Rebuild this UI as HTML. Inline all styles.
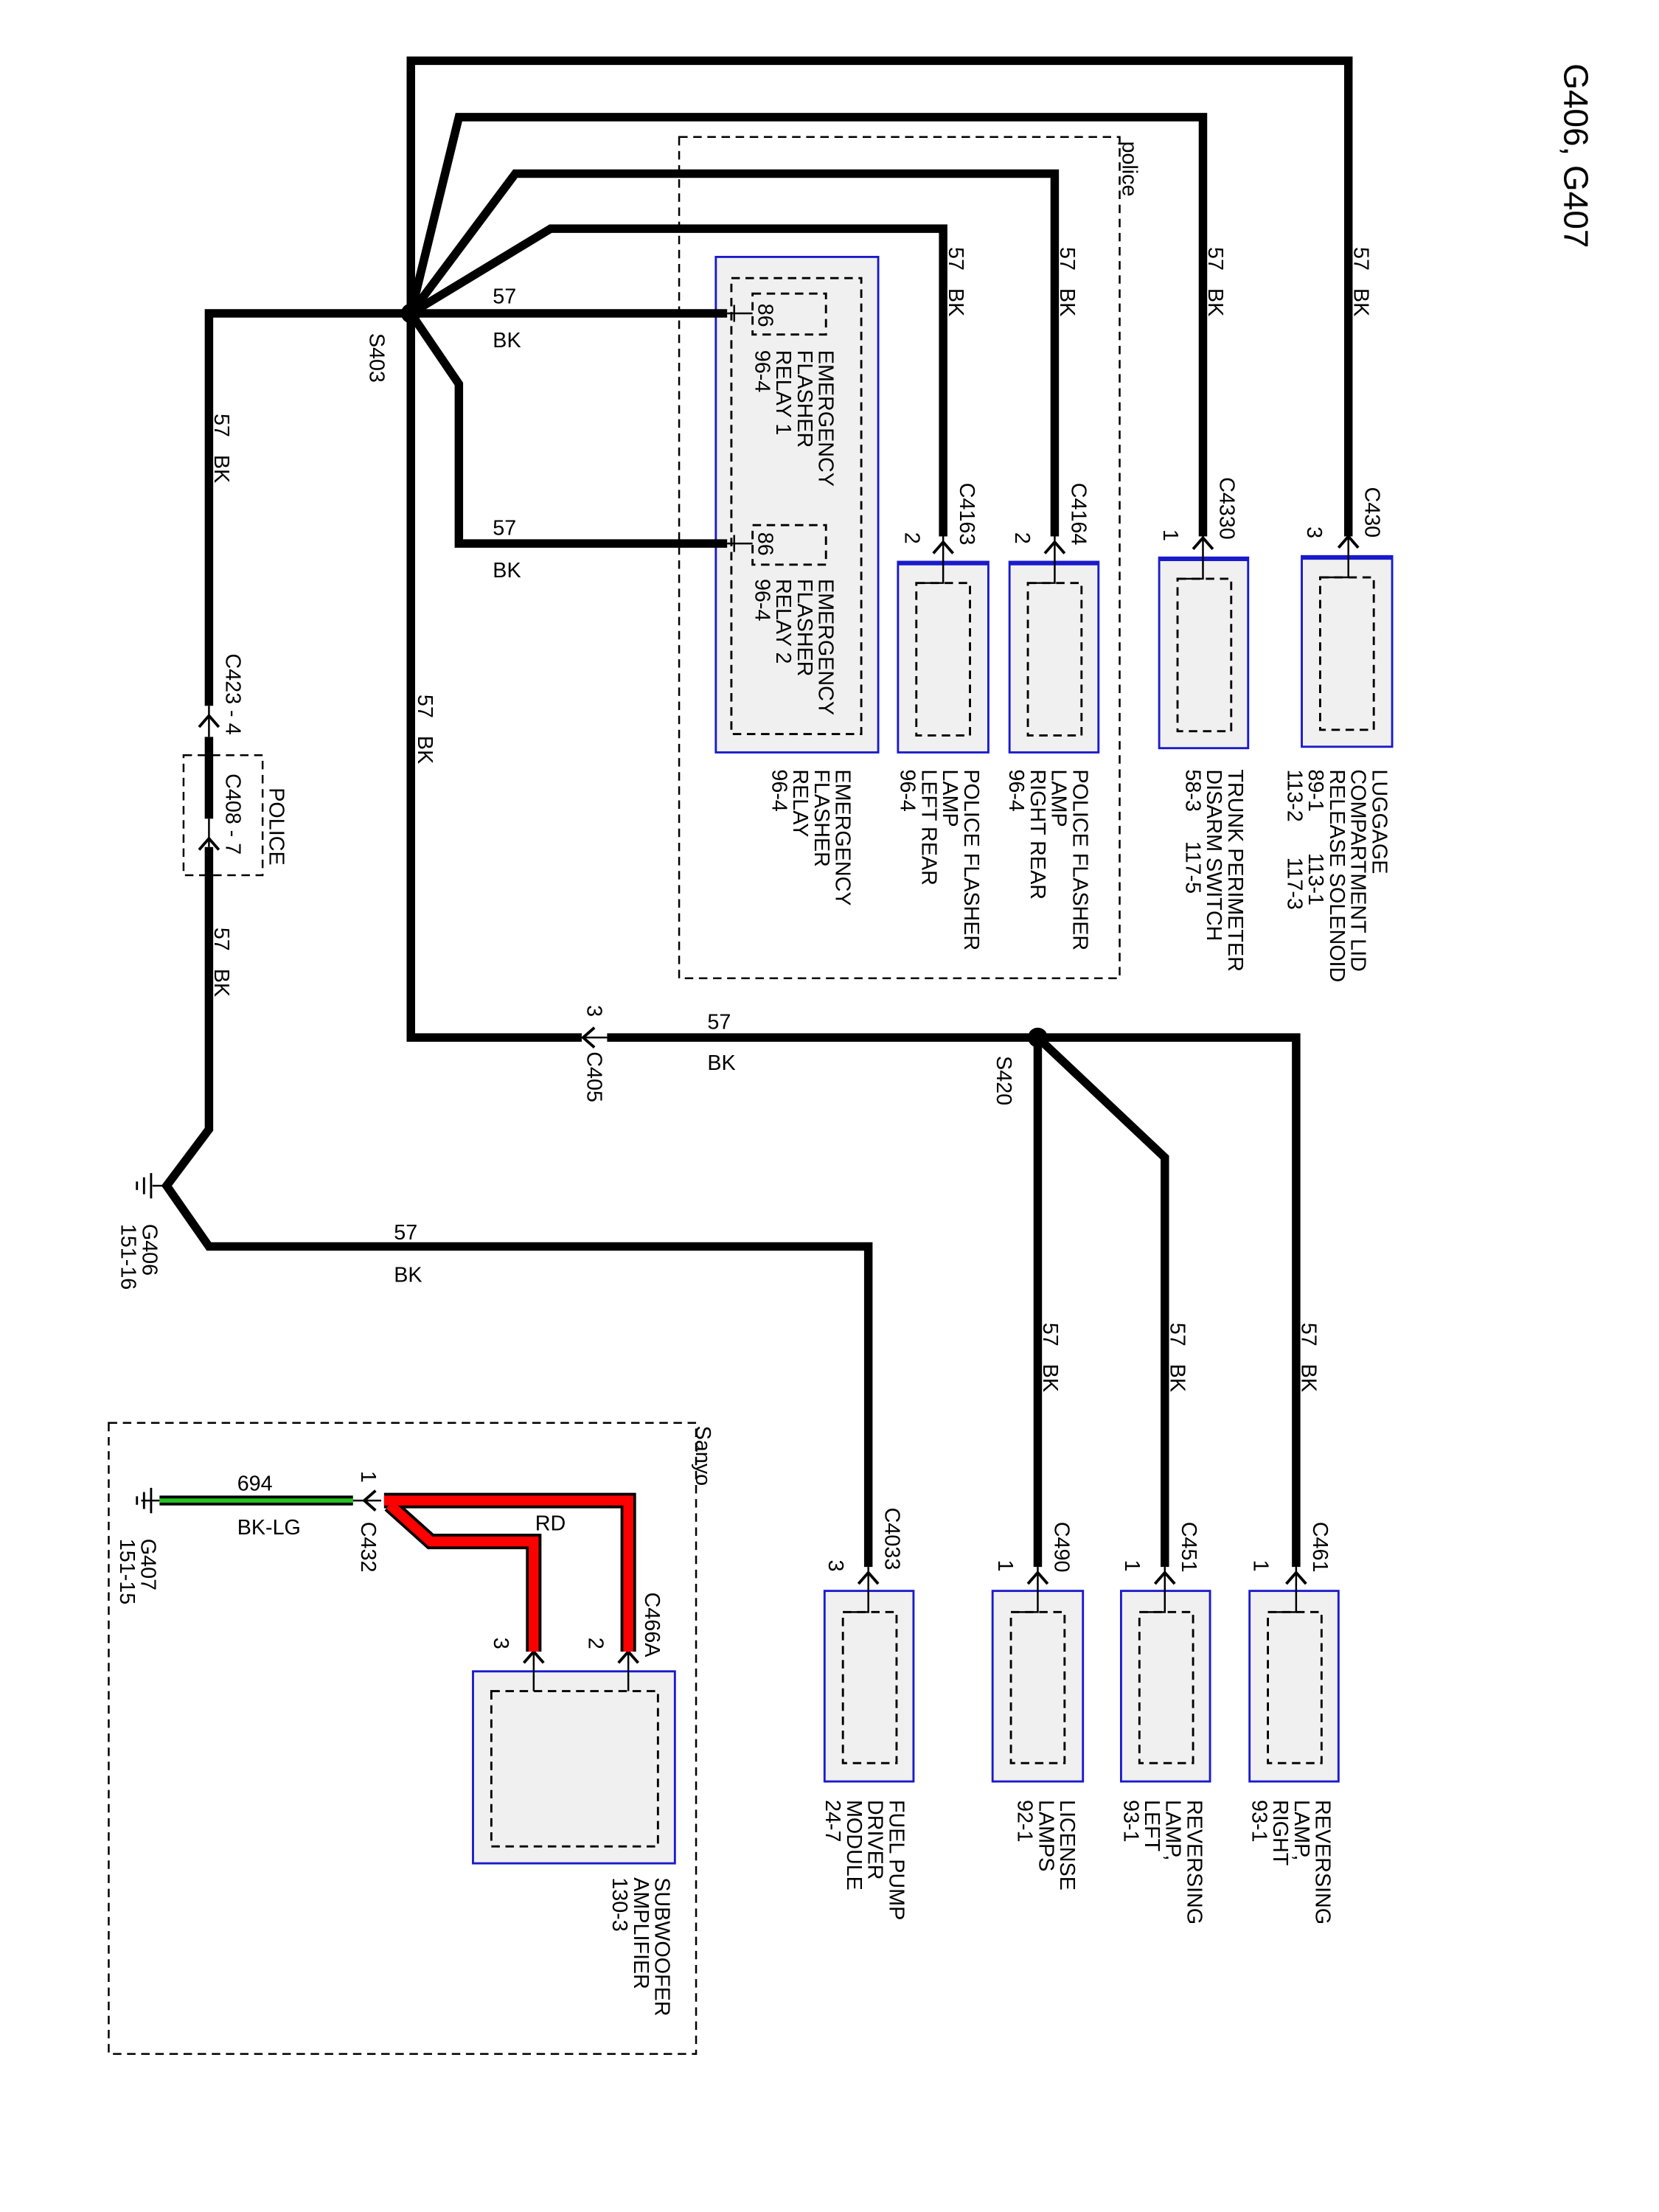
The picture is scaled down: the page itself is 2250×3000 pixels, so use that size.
<!DOCTYPE html>
<html><head><meta charset="utf-8"><style>
html,body{margin:0;padding:0;background:#fff;}
svg{display:block;}
text{font-family:"Liberation Sans",sans-serif;font-size:15px;fill:#000;white-space:pre;}
</style></head><body>
<svg width="2250" height="3000" viewBox="0 0 1175 1567" preserveAspectRatio="none" xmlns="http://www.w3.org/2000/svg" xml:space="preserve">
<rect width="1175" height="1567" fill="#fff"/>
<g fill="none" stroke="#000" stroke-width="1.3" stroke-dasharray="6,4">
<rect x="481" y="97" width="312" height="596"/>
<rect x="77" y="1008" width="416" height="447"/>
<rect x="130" y="535" width="56" height="85"/>
</g>
<g fill="#f0f0f0" stroke="#1a1acc" stroke-width="1.5">
<rect x="507" y="182" width="115" height="351"/>
<rect x="636" y="398" width="64" height="135"/>
<rect x="715" y="398" width="63" height="135"/>
<rect x="821" y="395" width="63" height="135"/>
<rect x="922" y="394" width="64" height="135"/>
<rect x="584" y="1127" width="63" height="135"/>
<rect x="703" y="1127" width="64" height="135"/>
<rect x="794" y="1127" width="63" height="135"/>
<rect x="885" y="1127" width="63" height="135"/>
<rect x="335" y="1184" width="143" height="136"/>
</g>
<g stroke="#1a1acc" stroke-width="3">
<line x1="636" y1="399" x2="700" y2="399"/><line x1="715" y1="399" x2="778" y2="399"/>
<line x1="821" y1="396" x2="884" y2="396"/><line x1="922" y1="395" x2="986" y2="395"/>
</g>
<g fill="none" stroke="#000" stroke-width="1.5" stroke-dasharray="6,4">
<rect x="518" y="197" width="92" height="323"/>
<rect x="533" y="208" width="52" height="29"/>
<rect x="533" y="372" width="52" height="28"/>
<rect x="649" y="413" width="38" height="108"/>
<rect x="728" y="413" width="38" height="108"/>
<rect x="834" y="410" width="38" height="108"/>
<rect x="935" y="409" width="38" height="108"/>
<rect x="597" y="1142" width="38" height="107"/>
<rect x="716" y="1142" width="38" height="107"/>
<rect x="807" y="1142" width="38" height="107"/>
<rect x="898" y="1142" width="38" height="107"/>
<rect x="348" y="1198" width="118" height="110"/>
</g>
<g fill="none" stroke="#000" stroke-width="6" stroke-linejoin="miter">
<polyline points="291,222 291,43 955,43 955,380"/>
<polyline points="291,222 325,83 852,83 852,380"/>
<polyline points="291,222 365,123 747,123 747,380"/>
<polyline points="291,222 390,162 668,162 668,380"/>
<polyline points="291,222 515,222"/>
<polyline points="291,222 325,272 325,385 515,385"/>
<polyline points="291,222 291,735 412,735"/>
<polyline points="430,735 735,735"/>
<polyline points="291,222 148,222 148,500"/>
<polyline points="148,522 148,580"/>
<polyline points="148,600 148,800 118,840 148,883 615,883 615,1110"/>
<polyline points="735,735 918,735 918,1110"/>
<polyline points="735,735 735,1110"/>
<polyline points="735,735 825,820 825,1110"/>
</g>
<circle cx="291" cy="222" r="7" fill="#000"/>
<circle cx="735" cy="735" r="7" fill="#000"/>
<g fill="none" stroke="#000" stroke-width="1.3">
<line x1="515" y1="222" x2="533" y2="222"/><line x1="520" y1="216" x2="520" y2="228"/>
<line x1="515" y1="385" x2="533" y2="385"/><line x1="520" y1="379" x2="520" y2="391"/>
<polyline points="668,380 668,413 649,413"/><polyline points="747,380 747,413 728,413"/>
<polyline points="852,380 852,410 834,410"/><polyline points="955,380 955,409 935,409"/>
<polyline points="615,1110 615,1142 597,1142"/><polyline points="735,1110 735,1142 716,1142"/>
<polyline points="825,1110 825,1142 807,1142"/><polyline points="918,1110 918,1142 898,1142"/>
<line x1="378" y1="1170" x2="378" y2="1198"/><line x1="445" y1="1170" x2="445" y2="1198"/>
<line x1="148" y1="500" x2="148" y2="522"/><line x1="148" y1="580" x2="148" y2="600"/>
<line x1="412" y1="735" x2="430" y2="735"/>
<line x1="108" y1="840" x2="118" y2="840"/>
<line x1="100" y1="1063" x2="113" y2="1063"/>
<line x1="250" y1="1063" x2="270" y2="1063"/>
</g>
<g fill="none" stroke="#000" stroke-width="2">
<polyline points="661,392 668,384 675,392"/><polyline points="740,392 747,384 754,392"/>
<polyline points="845,389 852,381 859,389"/><polyline points="948,388 955,380 962,388"/>
<polyline points="608,1122 615,1114 622,1122"/><polyline points="728,1122 735,1114 742,1122"/>
<polyline points="818,1122 825,1114 832,1122"/><polyline points="911,1122 918,1114 925,1122"/>
<polyline points="371,1178 378,1170 385,1178"/><polyline points="438,1178 445,1170 452,1178"/>
<polyline points="141,515 148,507 155,515"/><polyline points="141,602 148,594 155,602"/>
<polyline points="421,728 413,735 421,742"/>
<polyline points="266,1056 258,1063 266,1070"/>
</g>
<g stroke="#000" stroke-width="1.5">
<line x1="107" y1="831" x2="107" y2="849"/><line x1="102" y1="834" x2="102" y2="846"/><line x1="97" y1="837" x2="97" y2="843"/>
<line x1="107" y1="1054" x2="107" y2="1072"/><line x1="102" y1="1057" x2="102" y2="1069"/><line x1="97" y1="1060" x2="97" y2="1066"/>
</g>
<line x1="113" y1="1063" x2="250" y2="1063" stroke="#000" stroke-width="7"/>
<line x1="113" y1="1063" x2="250" y2="1063" stroke="#22c322" stroke-width="3"/>
<g fill="none" stroke-linejoin="miter">
<polyline points="272,1063 445,1063 445,1170" stroke="#000" stroke-width="11"/>
<polyline points="276,1066 305,1092 378,1092 378,1170" stroke="#000" stroke-width="11"/>
<polyline points="272,1063 445,1063 445,1170" stroke="#f00" stroke-width="7"/>
<polyline points="276,1066 305,1092 378,1092 378,1170" stroke="#f00" stroke-width="7"/>
</g>
<text x="349" y="215">57</text><text x="349" y="246">BK</text>
<text x="349" y="379">57</text><text x="349" y="409">BK</text>
<text x="501" y="729">57</text><text x="501" y="758">BK</text>
<text x="279" y="878">57</text><text x="279" y="908">BK</text>
<text x="168" y="1056">694</text><text x="168" y="1087">BK-LG</text>
<text x="379" y="1084">RD</text>
<g font-size="15">
<text transform="translate(1108,45) rotate(90)" style="font-size:24px">G406, G407</text>
<text transform="translate(795,100) rotate(90)">police</text>
<text transform="translate(493,1010) rotate(90)">Sanyo</text>
<text transform="translate(672,175) rotate(90)">57   BK</text>
<text transform="translate(751,175) rotate(90)">57   BK</text>
<text transform="translate(856,175) rotate(90)">57   BK</text>
<text transform="translate(959,175) rotate(90)">57   BK</text>
<text transform="translate(152,293) rotate(90)">57   BK</text>
<text transform="translate(152,657) rotate(90)">57   BK</text>
<text transform="translate(296,492) rotate(90)">57   BK</text>
<text transform="translate(739,937) rotate(90)">57   BK</text>
<text transform="translate(829,937) rotate(90)">57   BK</text>
<text transform="translate(922,937) rotate(90)">57   BK</text>
<text transform="translate(262,236) rotate(90)">S403</text>
<text transform="translate(706,748) rotate(90)">S420</text>
<text transform="translate(416,745) rotate(90)">C405</text>
<text transform="translate(416,712) rotate(90)">3</text>
<text transform="translate(160,463) rotate(90)">C423 - 4</text>
<text transform="translate(160,548) rotate(90)">C408 - 7</text>
<text transform="translate(191,558) rotate(90)">POLICE</text>
<text transform="translate(680,342) rotate(90)">C4163</text>
<text transform="translate(641,377) rotate(90)">2</text>
<text transform="translate(759,342) rotate(90)">C4164</text>
<text transform="translate(719,377) rotate(90)">2</text>
<text transform="translate(864,338) rotate(90)">C4330</text>
<text transform="translate(824,375) rotate(90)">1</text>
<text transform="translate(967,345) rotate(90)">C430</text>
<text transform="translate(926,373) rotate(90)">3</text>
<text transform="translate(627,1068) rotate(90)">C4033</text>
<text transform="translate(587,1105) rotate(90)">3</text>
<text transform="translate(747,1078) rotate(90)">C490</text>
<text transform="translate(707,1105) rotate(90)">1</text>
<text transform="translate(837,1078) rotate(90)">C451</text>
<text transform="translate(797,1105) rotate(90)">1</text>
<text transform="translate(930,1078) rotate(90)">C461</text>
<text transform="translate(888,1105) rotate(90)">1</text>
<text transform="translate(457,1128) rotate(90)">C466A</text>
<text transform="translate(417,1160) rotate(90)">2</text>
<text transform="translate(350,1160) rotate(90)">3</text>
<text transform="translate(256,1078) rotate(90)">C432</text>
<text transform="translate(256,1042) rotate(90)">1</text>
<text transform="translate(537,215) rotate(90)">86</text>
<text transform="translate(537,377) rotate(90)">86</text>
<text transform="translate(580,248) rotate(90)"><tspan x="0">EMERGENCY</tspan><tspan x="0" dy="15">FLASHER</tspan><tspan x="0" dy="15">RELAY 1</tspan><tspan x="0" dy="15">96-4</tspan></text>
<text transform="translate(580,410) rotate(90)"><tspan x="0">EMERGENCY</tspan><tspan x="0" dy="15">FLASHER</tspan><tspan x="0" dy="15">RELAY 2</tspan><tspan x="0" dy="15">96-4</tspan></text>
<text transform="translate(592,545) rotate(90)"><tspan x="0">EMERGENCY</tspan><tspan x="0" dy="15">FLASHER</tspan><tspan x="0" dy="15">RELAY</tspan><tspan x="0" dy="15">96-4</tspan></text>
<text transform="translate(683,545) rotate(90)"><tspan x="0">POLICE FLASHER</tspan><tspan x="0" dy="15">LAMP</tspan><tspan x="0" dy="15">LEFT REAR</tspan><tspan x="0" dy="15">96-4</tspan></text>
<text transform="translate(760,545) rotate(90)"><tspan x="0">POLICE FLASHER</tspan><tspan x="0" dy="15">LAMP</tspan><tspan x="0" dy="15">RIGHT REAR</tspan><tspan x="0" dy="15">96-4</tspan></text>
<text transform="translate(870,545) rotate(90)"><tspan x="0">TRUNK PERIMETER</tspan><tspan x="0" dy="15">DISARM SWITCH</tspan><tspan x="0" dy="15">58-3     117-5</tspan></text>
<text transform="translate(972,545) rotate(90)"><tspan x="0">LUGGAGE</tspan><tspan x="0" dy="15">COMPARTMENT LID</tspan><tspan x="0" dy="15">RELEASE SOLENOID</tspan><tspan x="0" dy="15">89-1       113-1</tspan><tspan x="0" dy="15">113-2      117-3</tspan></text>
<text transform="translate(630,1275) rotate(90)"><tspan x="0">FUEL PUMP</tspan><tspan x="0" dy="15">DRIVER</tspan><tspan x="0" dy="15">MODULE</tspan><tspan x="0" dy="15">24-7</tspan></text>
<text transform="translate(751,1275) rotate(90)"><tspan x="0">LICENSE</tspan><tspan x="0" dy="15">LAMPS</tspan><tspan x="0" dy="15">92-1</tspan></text>
<text transform="translate(841,1275) rotate(90)"><tspan x="0">REVERSING</tspan><tspan x="0" dy="15">LAMP,</tspan><tspan x="0" dy="15">LEFT</tspan><tspan x="0" dy="15">93-1</tspan></text>
<text transform="translate(932,1275) rotate(90)"><tspan x="0">REVERSING</tspan><tspan x="0" dy="15">LAMP,</tspan><tspan x="0" dy="15">RIGHT</tspan><tspan x="0" dy="15">93-1</tspan></text>
<text transform="translate(464,1330) rotate(90)"><tspan x="0">SUBWOOFER</tspan><tspan x="0" dy="15">AMPLIFIER</tspan><tspan x="0" dy="15">130-3</tspan></text>
<text transform="translate(101,867) rotate(90)"><tspan x="0">G406</tspan><tspan x="0" dy="15">151-16</tspan></text>
<text transform="translate(100,1090) rotate(90)"><tspan x="0">G407</tspan><tspan x="0" dy="15">151-15</tspan></text>
</g>
</svg>
</body></html>
